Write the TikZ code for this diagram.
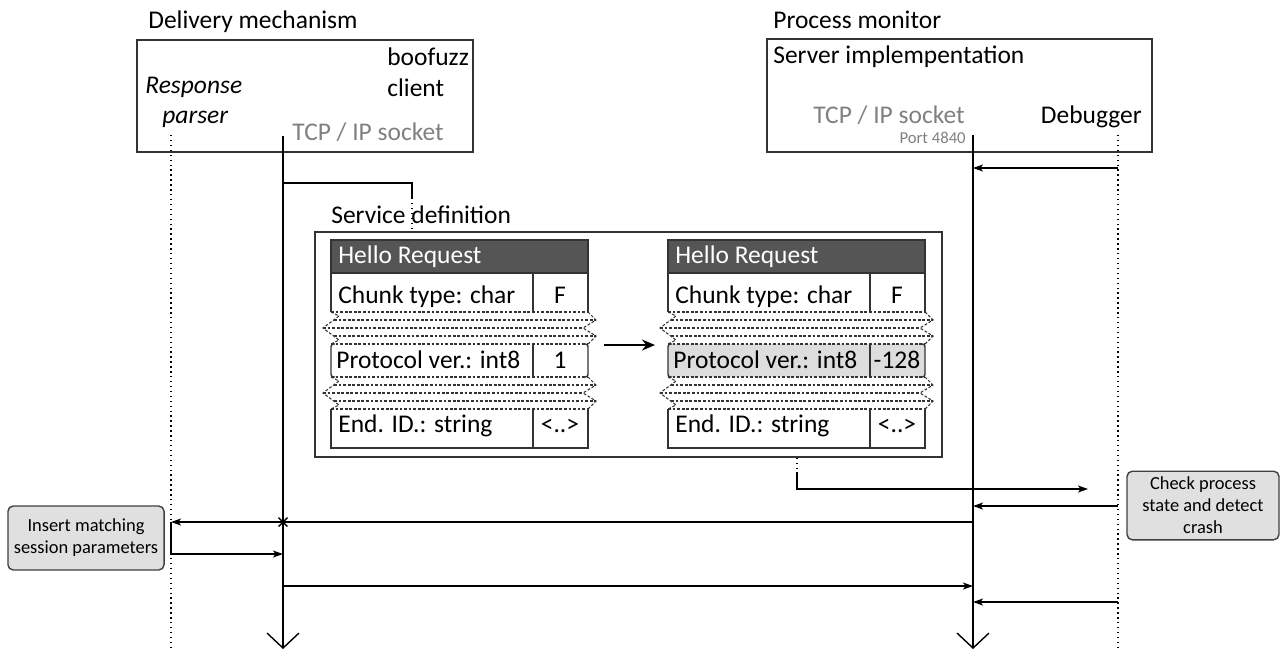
\documentclass[tikz,border=0pt]{standalone}
\usepackage{fontspec}
\setmainfont{Carlito}
\usetikzlibrary{arrows.meta, positioning, shapes.misc}

\definecolor{hdrgray}{HTML}{555555}
\definecolor{rowgray}{HTML}{DDDDDD}
\definecolor{notegray}{HTML}{E0E0E0}
\definecolor{sockgray}{HTML}{808080}

\begin{document}
\begin{tikzpicture}[x=0.02cm, y=-0.02cm,
        lbl/.style={inner sep=0pt, font=\fontsize{14.5}{17}\selectfont},
        sock/.style={lbl, text=sockgray},
        cell/.style={inner sep=0pt, font=\fontsize{14.5}{17}\selectfont},
        frame/.style={draw=black!80, line width=0.8pt},
        torn/.style={draw=black!80, line width=0.6pt, dash pattern=on 1.6pt off 1pt},
        life/.style={line width=0.8pt, -{Straight Barb[length=3mm, width=6.4mm]}},
        dots/.style={line width=0.8pt, dotted},
        wire/.style={line width=0.8pt},
        msg/.style={line width=0.8pt, -{Stealth[length=2mm, width=1.4mm, inset=0.5mm]}},
        note/.style={rectangle, draw=black!75, line width=0.8pt, rounded corners=3pt,
                     fill=notegray, align=center, font=\fontsize{10.5}{12.5}\selectfont}]
      \useasboundingbox (0,0) rectangle (1280,650);

      % delivery side
      \node[lbl, anchor=base west] (dmtitle) at (148,28) {Delivery mechanism};
      \draw[frame] (137,40) rectangle (473,152);
      \node[lbl, anchor=base west] (boofuzz) at (387,65) {boofuzz};
      \node[lbl, anchor=base west] (client) at (387,96) {client};
      \node[lbl, anchor=base west, font=\fontsize{14.5}{17}\selectfont\itshape] (resp) at (145,93) {Response};
      \node[lbl, anchor=base west, font=\fontsize{14.5}{17}\selectfont\itshape] (parser) at (162,123) {parser};
      \node[sock, anchor=base west] (clsock) at (292,140) {TCP / IP socket};

      % server side
      \node[lbl, anchor=base west] (pmtitle) at (773,28) {Process monitor};
      \draw[frame] (767,39) rectangle (1152,152);
      \node[lbl, anchor=base west] (impl) at (773,63) {Server implempentation};
      \node[sock, anchor=base east] (svsock) at (965,123) {TCP / IP socket};
      \node[inner sep=0pt, text=sockgray, font=\fontsize{9.5}{11}\selectfont, anchor=base east] (port) at (966,143) {Port 4840};
      \node[lbl, anchor=base east] (debugger) at (1142,123) {Debugger};

      % lifelines
      \coordinate (rp) at (171,135);
      \coordinate (cl) at (283,136);
      \coordinate (sv) at (973,135);
      \coordinate (dbg) at (1118,135);
      \coordinate (rpend) at (171,650);
      \coordinate (clend) at (283,649);
      \coordinate (svend) at (973,649);
      \coordinate (dbgend) at (1118,650);
      \draw[dots] (rp) -- (rpend);
      \draw[life] (cl) -- (clend);
      \draw[life] (sv) -- (svend);
      \draw[dots] (dbg) -- (dbgend);

      % service definition
      \node[lbl, anchor=base west] (sdtitle) at (331,223) {Service definition};
      \draw[frame] (315,232) rectangle (942,457);
      \foreach \dx/\val/\rowfill [count=\i] in {0/1/white, 337/-128/rowgray} {
        \begin{scope}[shift={(\dx,0)}]
          \fill[\rowfill] (331,344) rectangle (588,377);
          \fill[hdrgray] (331,240) rectangle (588,273);
          \draw[frame] (331,240) rectangle (588,273);
          \draw[frame] (331,273) -- (331,312) (588,273) -- (588,312) (533,273) -- (533,312);
          \draw[frame, rounded corners=1.5pt] (335,344) -- (331,344) -- (331,377) -- (335,377);
          \draw[frame, rounded corners=1.5pt] (584,344) -- (588,344) -- (588,377) -- (584,377);
          \draw[frame] (533,344) -- (533,377);
          \draw[frame] (331,409) -- (331,448) -- (588,448) -- (588,409) (533,409) -- (533,448);
          \foreach \yo in {312, 377} {
            \draw[torn] (331,\yo) -- (588,\yo) (331,\yo+32) -- (588,\yo+32);
            \draw[torn] (334,\yo+8) -- (596,\yo+8) (323,\yo+16) -- (583,\yo+16) (334,\yo+24) -- (596,\yo+24);
            \draw[torn] (331,\yo) -- (339,\yo+4) -- (323,\yo+16) -- (339,\yo+28) -- (331,\yo+32);
            \draw[torn] (588,\yo) -- (596,\yo+8) -- (583,\yo+16) -- (596,\yo+24) -- (588,\yo+32);
          }
          \node[cell, text=white, anchor=base west] (hdr\i) at (338,263) {Hello Request};
          \node[cell, anchor=base west] (chunk\i) at (338,303) {Chunk type: char};
          \node[cell, anchor=base] (chunkval\i) at (560,303) {F};
          \node[cell, anchor=base west] (proto\i) at (336,368) {Protocol ver.: int8};
          \node[cell, anchor=base] (protoval\i) at (560,368) {\val};
          \node[cell, anchor=base west] (endid\i) at (338,432) {End. ID.: string};
          \node[cell, anchor=base] (endidval\i) at (560,432) {<..>};
        \end{scope}
      }
      \coordinate (mutfrom) at (604,345);
      \coordinate (mutto) at (655,345);
      \draw[line width=1.5pt, -{Stealth[length=2.6mm, width=2.2mm]}] (mutfrom) -- (mutto);

      % notes
      \node[note, minimum width=3.08cm, minimum height=1.28cm] (insert) at (86,538)
            {Insert matching\\session parameters};
      \node[note, minimum width=3.04cm, minimum height=1.3cm] (check) at (1203,505.5)
            {Check process\\state and detect\\crash};

      % messages
      \coordinate (m1) at (0,168);
      \coordinate (m2) at (0,183);
      \coordinate (m4) at (0,506);
      \coordinate (m5) at (0,522);
      \coordinate (m6) at (0,554);
      \coordinate (m7) at (0,586);
      \coordinate (m8) at (0,602);
      \coordinate (sdbend) at (412,198);
      \coordinate (sdin) at (412,232);
      \coordinate (tblout) at (797,458);
      \coordinate (chkbend) at (797,472);
      \coordinate (chkin) at (1088,489);
      \draw[msg] (dbg |- m1) -- (sv |- m1);
      \draw[wire] (cl |- m2) -| (sdbend);
      \draw[dots] (sdbend) -- (sdin);
      \draw[dots] (tblout) -- (chkbend);
      \draw[msg] (chkbend) |- (chkin);
      \draw[msg] (dbg |- m4) -- (sv |- m4);
      \draw[msg] (sv |- m5) -- (rp |- m5);
      \node[cross out, draw, line width=0.8pt, minimum size=0.15cm, inner sep=0pt] (drop) at (cl |- m5) {};
      \draw[msg] (rp |- m5) |- (cl |- m6);
      \draw[msg] (cl |- m7) -- (sv |- m7);
      \draw[msg] (dbg |- m8) -- (sv |- m8);
    \end{tikzpicture}
\end{document}
